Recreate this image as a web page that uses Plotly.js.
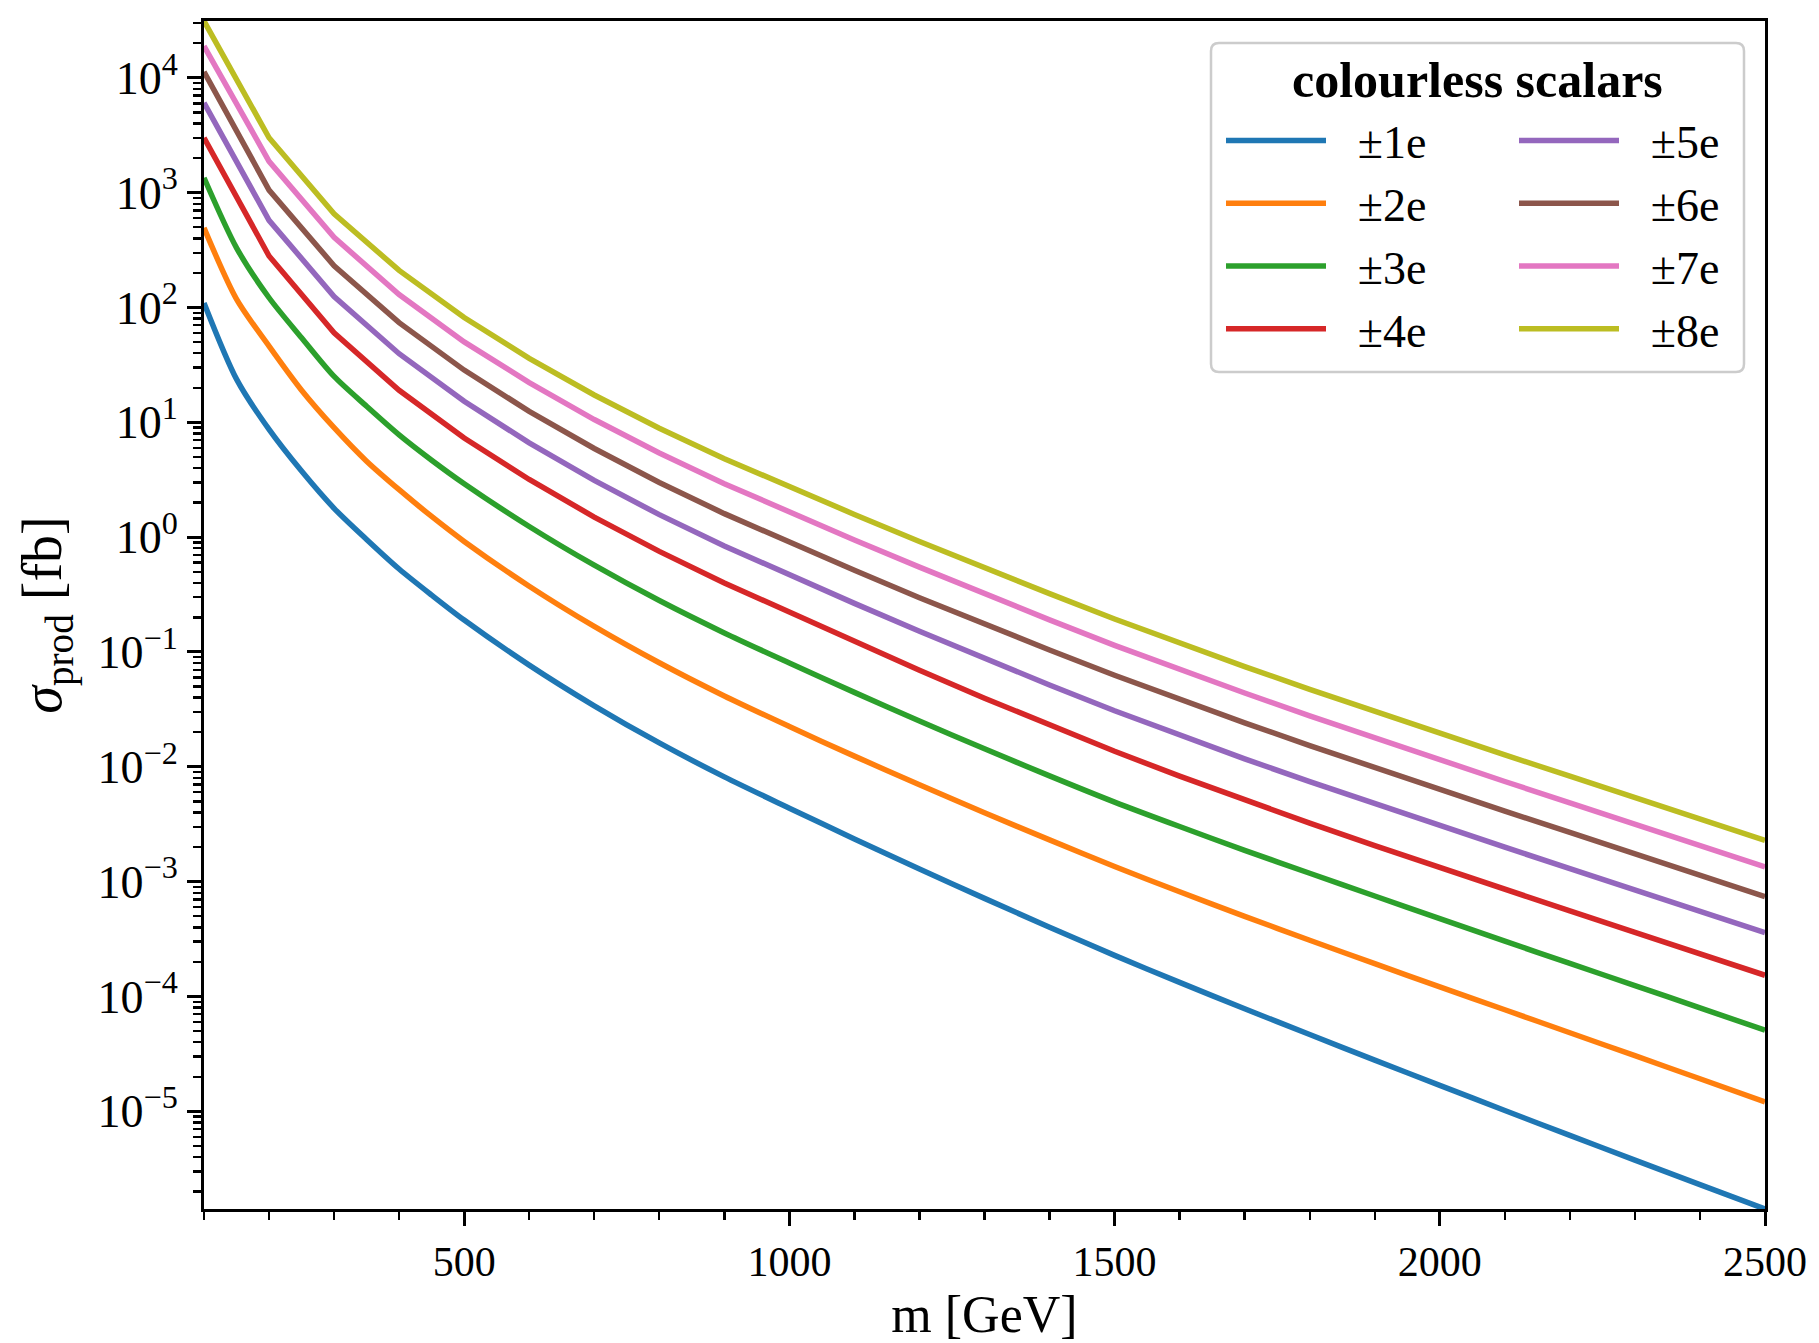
<!DOCTYPE html>
<html>
<head>
<meta charset="utf-8">
<script src="https://cdn.plot.ly/plotly-3.0.1.min.js"></script>
<style>html,body{margin:0;padding:0;background:#fff;}</style>
</head>
<body>
<div id="chart" style="width:1819px;height:1343px;"></div>
<script>
// masses [GeV]
const massCoarse = [100,200,300,400,500,600,700,800,900,1000,1100,1200,1300,1400,1500,1600,1700,1800,1900,2000,2100,2200,2300,2400,2500];
const massFine = [100,150,200,250,300,350,400,450,500,600,700,800,900,1000,1100,1200,1300,1400,1500,1600,1700,1800,1900,2000,2100,2200,2300,2400,2500];

// production cross sections [fb]
const sigma1e = [109.6,23.8,8.67,3.76,1.782,0.955,0.528,0.313,0.1897,0.0769,0.034,0.01614,0.00818,0.004365,0.002355,0.001288,0.000715,0.000401,0.000228,0.0001327,0.0000782,0.0000466,0.0000279,0.00001683,0.00001016,0.00000617,0.00000376,0.0000023,0.00000141];
const sigma2e = [494,118.3,46.1,19.05,8.99,4.59,2.59,1.514,0.918,0.374,0.167,0.0805,0.0414,0.02244,0.01239,0.00697,0.00398,0.00231,0.001355,0.000817,0.000499,0.000309,0.000193,0.0001213,0.0000766,0.0000483,0.0000305,0.0000192,0.0000121];
const sigma3e = [1349,331,121.6,54.5,25.1,13.8,7.78,4.68,2.92,1.239,0.570,0.2805,0.1466,0.0802,0.0445,0.02506,0.01435,0.00834,0.00493,0.00302,0.001875,0.001183,0.00075,0.000476,0.000303,0.000194,0.0001245,0.0000796,0.0000508];
const sigma4e = [3006,281,60.1,19.0,7.29,3.18,1.496,0.752,0.399,0.221,0.123,0.0693,0.0396,0.0231,0.01365,0.0083,0.00513,0.00323,0.00206,0.001324,0.000855,0.000556,0.000362,0.000236,0.000153];
const sigma5e = [6067,574,124.7,39.6,15.24,6.62,3.12,1.57,0.838,0.469,0.265,0.1517,0.0879,0.0516,0.0308,0.01884,0.01172,0.00743,0.00476,0.00308,0.001995,0.0013,0.000849,0.000553,0.00036];
const sigma6e = [11300,1054,231,73.8,28.5,12.47,5.92,2.99,1.603,0.902,0.514,0.297,0.175,0.1042,0.0628,0.0387,0.02415,0.01531,0.00982,0.00634,0.00411,0.00268,0.00175,0.00114,0.000741];
const sigma7e = [18920,1875,408,129.7,50.2,22.2,10.57,5.40,2.92,1.652,0.946,0.548,0.321,0.1905,0.1143,0.0703,0.0439,0.0278,0.01778,0.01148,0.00745,0.00485,0.00317,0.002065,0.001343];
const sigma8e = [31260,3006,654.6,210.4,81.8,36.1,17.3,8.87,4.82,2.742,1.578,0.918,0.541,0.322,0.194,0.1197,0.0746,0.0473,0.0303,0.01959,0.0127,0.00828,0.0054,0.00352,0.00229];

const seriesLabels = ["±1e","±2e","±3e","±4e","±5e","±6e","±7e","±8e"];
const legendTitle = "colourless scalars";

// ticks
const xTickVals = [500,1000,1500,2000,2500];
const yTickVals = [1e-5,1e-4,1e-3,1e-2,1e-1,1e0,1e1,1e2,1e3,1e4];
const yTickText = ["10<sup>−5</sup>","10<sup>−4</sup>","10<sup>−3</sup>","10<sup>−2</sup>","10<sup>−1</sup>","10<sup>0</sup>","10<sup>1</sup>","10<sup>2</sup>","10<sup>3</sup>","10<sup>4</sup>"];

const colors = ["#1f77b4","#ff7f0e","#2ca02c","#d62728","#9467bd","#8c564b","#e377c2","#bcbd22"];
const xs = [massFine,massFine,massFine,massCoarse,massCoarse,massCoarse,massCoarse,massCoarse];
const ys = [sigma1e,sigma2e,sigma3e,sigma4e,sigma5e,sigma6e,sigma7e,sigma8e];

const labelGap = "\u2002\u200A";
const traces = ys.map((y,i)=>({
  type:'scatter', mode:'lines', x:xs[i], y:y, name:labelGap+seriesLabels[i],
  line:{color:colors[i], width:5.5, shape: i<3 ? 'spline' : 'linear', smoothing: 0.8},
  legend: i<4 ? 'legend' : 'legend2',
  legendgroup:'g'+i, hoverinfo:'skip'
}));

const allY = ys.flat();
const yMin = Math.log10(Math.min(...allY));
const yMax = Math.log10(Math.max(...allY));

// plot area in px
const L=204, R=1765, T=21, B=1209, W=1819, H=1343;
const px2x = p => (p-L)/(R-L);
const px2y = p => (B-p)/(B-T);

const bx0=px2x(1211), bx1=px2x(1744), by0=px2y(372), by1=px2y(43);
const rx=8/(R-L), ry=8/(B-T);
const boxPath = `M${bx0+rx},${by0} L${bx1-rx},${by0} Q${bx1},${by0} ${bx1},${by0+ry} L${bx1},${by1-ry} Q${bx1},${by1} ${bx1-rx},${by1} L${bx0+rx},${by1} Q${bx0},${by1} ${bx0},${by1-ry} L${bx0},${by0+ry} Q${bx0},${by0} ${bx0+rx},${by0} Z`;

const fontFam = 'Liberation Serif, DejaVu Serif, serif';

const layout = {
  width:W, height:H,
  margin:{l:L, r:W-R, t:T, b:H-B, autoexpand:false},
  paper_bgcolor:'#ffffff', plot_bgcolor:'#ffffff',
  font:{family:fontFam, size:42, color:'#000'},
  showlegend:true,
  xaxis:{
    range:[100,2500], tickmode:'array', tickvals:xTickVals,
    showline:true, linecolor:'#000', linewidth:3, mirror:true,
    ticks:'outside', ticklen:14, tickwidth:3, tickcolor:'#000',
    tickfont:{size:42, family:fontFam},
    minor:{tickmode:'linear', tick0:0, dtick:100, ticks:'outside', ticklen:8, tickwidth:2.4, tickcolor:'#000', showgrid:false},
    showgrid:false, zeroline:false,
    title:{text:'m [GeV]', font:{size:52, family:fontFam}, standoff:20}
  },
  yaxis:{
    type:'log', range:[yMin,yMax], tickmode:'array', tickvals:yTickVals, ticktext:yTickText,
    showline:true, linecolor:'#000', linewidth:3, mirror:true,
    ticks:'outside', ticklen:14, tickwidth:3, tickcolor:'#000',
    tickfont:{size:46, family:fontFam},
    minor:{dtick:'D1', ticks:'outside', ticklen:8, tickwidth:2.4, tickcolor:'#000', showgrid:false},
    showgrid:false, zeroline:false,
    title:{text:'<i>σ</i><sub>prod</sub> [fb]', font:{size:56, family:fontFam}, standoff:18}
  },
  legend:{x:px2x(1221), y:px2y(104), xanchor:'left', yanchor:'top', bgcolor:'rgba(0,0,0,0)', borderwidth:0,
          font:{size:46, family:fontFam}, itemwidth:100, tracegroupgap:0, itemclick:false},
  legend2:{x:px2x(1514), y:px2y(104), xanchor:'left', yanchor:'top', bgcolor:'rgba(0,0,0,0)', borderwidth:0,
          font:{size:46, family:fontFam}, itemwidth:100, tracegroupgap:0, itemclick:false},
  shapes:[{type:'path', xref:'paper', yref:'paper', path:boxPath, fillcolor:'rgba(255,255,255,0.8)', line:{color:'#cccccc', width:2.5}, layer:'above'}],
  annotations:[{xref:'paper', yref:'paper', x:px2x(1477), y:px2y(80), xanchor:'center', yanchor:'middle', showarrow:false,
    text:'<b>'+legendTitle+'</b>', font:{size:50, family:fontFam, color:'#000'}}]
};

Plotly.newPlot('chart', traces, layout, {displayModeBar:false, staticPlot:true});
</script>
</body>
</html>
